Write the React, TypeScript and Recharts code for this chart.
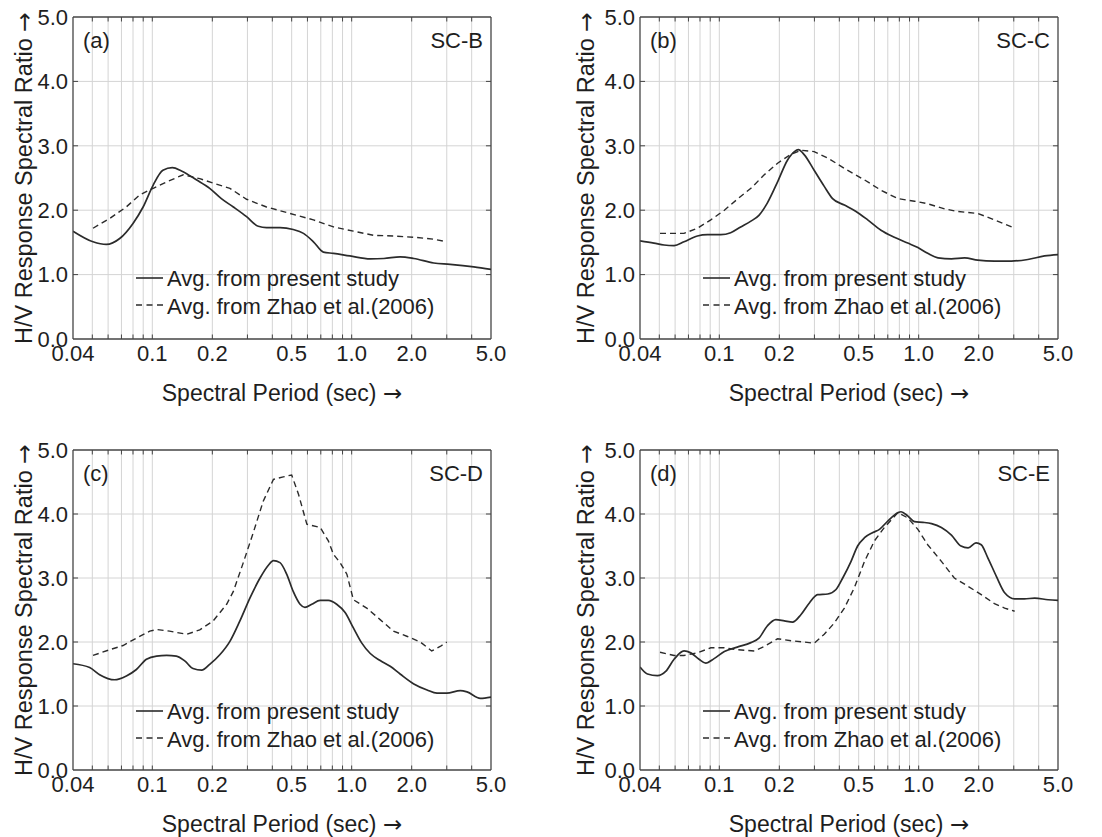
import React from 'react';
import { LineChart, Line, XAxis, YAxis, CartesianGrid, ReferenceLine, Legend } from 'recharts';

const FONT = '"Liberation Sans", Arial, Helvetica, sans-serif';
const ARROW_FONT = '"DejaVu Sans"';
const TEXT_COLOR = '#1e1e1e';
const LINE_COLOR = '#2b2b2b';
const FRAME_COLOR = '#444444';
const GRID_COLOR = '#d4d4d4';

const PERIOD_TICKS = [0.04, 0.1, 0.2, 0.5, 1, 2, 5];
const PERIOD_TICK_LABELS = ['0.04', '0.1', '0.2', '0.5', '1.0', '2.0', '5.0'];
const MINOR_PERIODS = [0.05, 0.06, 0.07, 0.08, 0.09, 0.1, 0.2, 0.3, 0.4, 0.5, 0.6, 0.7, 0.8, 0.9, 1, 2, 3, 4];
const RATIO_TICKS = [0, 1, 2, 3, 4, 5];
const RATIO_TICK_LABELS = ['0.0', '1.0', '2.0', '3.0', '4.0', '5.0'];
const RATIO_GRID = [1, 2, 3, 4];
const PANEL_TAGS = ['(a)', '(b)', '(c)', '(d)'];
const SITE_CLASSES = ['SC-B', 'SC-C', 'SC-D', 'SC-E'];
const LEGEND_LABELS = ['Avg. from present study', 'Avg. from Zhao et al.(2006)'];
const X_TITLE = 'Spectral Period (sec) ';
const Y_TITLE = 'H/V Response Spectral Ratio ';
const ARROW = '\u2192';

// (a) SC-B
const A_PRESENT_T = [0.04, 0.0504, 0.0588, 0.0686, 0.08, 0.0899, 0.101, 0.113, 0.126, 0.14, 0.167, 0.194, 0.222, 0.255, 0.297, 0.34, 0.374, 0.437, 0.509, 0.573, 0.643, 0.721, 0.811, 0.98, 1.24, 1.45, 1.75, 2.05, 2.58, 3.12, 4.1, 5.0];
const A_PRESENT_V = [1.675, 1.51, 1.468, 1.56, 1.795, 2.05, 2.39, 2.62, 2.66, 2.61, 2.47, 2.34, 2.18, 2.05, 1.9, 1.75, 1.73, 1.73, 1.7, 1.64, 1.51, 1.35, 1.33, 1.29, 1.245, 1.25, 1.275, 1.25, 1.18, 1.16, 1.12, 1.08];
const A_ZHAO_T = [0.0504, 0.061, 0.074, 0.0865, 0.101, 0.118, 0.143, 0.173, 0.202, 0.245, 0.297, 0.374, 0.49, 0.643, 0.811, 1.02, 1.29, 1.62, 2.05, 2.58, 3.0];
const A_ZHAO_V = [1.72, 1.87, 2.05, 2.24, 2.34, 2.44, 2.55, 2.49, 2.42, 2.34, 2.17, 2.05, 1.95, 1.85, 1.74, 1.675, 1.61, 1.6, 1.58, 1.55, 1.51];

// (b) SC-C
const B_PRESENT_T = [0.04, 0.047, 0.0528, 0.0593, 0.0665, 0.0776, 0.0872, 0.1017, 0.114, 0.128, 0.144, 0.158, 0.174, 0.196, 0.22, 0.238, 0.249, 0.267, 0.299, 0.336, 0.37, 0.424, 0.485, 0.555, 0.647, 0.755, 0.881, 0.991, 1.11, 1.25, 1.46, 1.7, 1.98, 2.4, 2.92, 3.53, 4.28, 5.0];
const B_PRESENT_V = [1.525, 1.49, 1.46, 1.45, 1.51, 1.6, 1.62, 1.62, 1.65, 1.74, 1.83, 1.92, 2.11, 2.44, 2.78, 2.91, 2.94, 2.86, 2.62, 2.37, 2.18, 2.08, 1.98, 1.85, 1.69, 1.58, 1.49, 1.42, 1.33, 1.26, 1.245, 1.26, 1.225, 1.21, 1.21, 1.235, 1.29, 1.31];
const B_ZHAO_T = [0.0504, 0.0665, 0.0776, 0.0906, 0.106, 0.123, 0.144, 0.168, 0.196, 0.229, 0.257, 0.299, 0.35, 0.424, 0.535, 0.647, 0.786, 0.953, 1.11, 1.35, 1.57, 1.98, 2.4, 3.03];
const B_ZHAO_V = [1.64, 1.64, 1.72, 1.85, 2.0, 2.17, 2.34, 2.55, 2.73, 2.87, 2.93, 2.91, 2.81, 2.65, 2.47, 2.31, 2.18, 2.14, 2.1, 2.02, 1.98, 1.95, 1.85, 1.72];

// (c) SC-D
const C_PRESENT_T = [0.04, 0.0485, 0.0544, 0.0647, 0.0741, 0.0832, 0.0934, 0.105, 0.118, 0.132, 0.146, 0.16, 0.177, 0.194, 0.218, 0.245, 0.275, 0.309, 0.347, 0.382, 0.405, 0.437, 0.472, 0.509, 0.551, 0.583, 0.631, 0.695, 0.764, 0.841, 0.927, 1.02, 1.12, 1.24, 1.39, 1.56, 1.75, 2.05, 2.39, 2.68, 3.0, 3.51, 3.79, 4.42, 5.0];
const C_PRESENT_V = [1.66, 1.6, 1.49, 1.41, 1.47, 1.57, 1.73, 1.78, 1.79, 1.78, 1.7, 1.585, 1.56, 1.65, 1.8, 2.01, 2.33, 2.69, 3.0, 3.2, 3.27, 3.24, 3.06, 2.79, 2.59, 2.54, 2.59, 2.65, 2.65, 2.59, 2.46, 2.22, 1.99, 1.82, 1.71, 1.62, 1.5, 1.345, 1.25, 1.2, 1.2, 1.24, 1.22, 1.12, 1.14];
const C_ZHAO_T = [0.0504, 0.0612, 0.0713, 0.0832, 0.0971, 0.105, 0.122, 0.149, 0.173, 0.202, 0.236, 0.255, 0.286, 0.321, 0.36, 0.405, 0.454, 0.5, 0.541, 0.596, 0.695, 0.764, 0.81, 0.875, 0.946, 1.02, 1.19, 1.39, 1.62, 1.89, 2.21, 2.52, 2.78, 3.0];
const C_ZHAO_V = [1.79, 1.88, 1.945, 2.06, 2.17, 2.195, 2.17, 2.12, 2.19, 2.33, 2.59, 2.79, 3.24, 3.71, 4.2, 4.54, 4.58, 4.61, 4.31, 3.84, 3.79, 3.58, 3.37, 3.24, 3.06, 2.66, 2.53, 2.35, 2.17, 2.09, 2.0, 1.86, 1.93, 2.0];

// (d) SC-E
const D_PRESENT_T = [0.04, 0.0436, 0.0489, 0.0538, 0.0593, 0.0665, 0.0719, 0.0791, 0.0855, 0.0941, 0.106, 0.123, 0.144, 0.158, 0.174, 0.192, 0.212, 0.233, 0.257, 0.283, 0.311, 0.35, 0.385, 0.416, 0.458, 0.494, 0.535, 0.589, 0.636, 0.7, 0.786, 0.816, 0.881, 0.953, 1.05, 1.16, 1.3, 1.46, 1.63, 1.77, 1.94, 2.06, 2.22, 2.45, 2.7, 3.03, 3.39, 3.82, 4.46, 5.0];
const D_PRESENT_V = [1.61, 1.5, 1.475, 1.54, 1.73, 1.86, 1.83, 1.73, 1.67, 1.74, 1.85, 1.92, 1.99, 2.06, 2.25, 2.35, 2.33, 2.31, 2.43, 2.61, 2.74, 2.75, 2.82, 3.0, 3.26, 3.5, 3.63, 3.71, 3.76, 3.89, 4.02, 4.035, 3.97, 3.88, 3.87, 3.85, 3.79, 3.67, 3.5, 3.47, 3.55, 3.52, 3.32, 3.03, 2.77, 2.675, 2.675, 2.685, 2.66, 2.65];
const D_ZHAO_T = [0.0504, 0.0593, 0.0665, 0.0776, 0.0906, 0.106, 0.123, 0.15, 0.168, 0.196, 0.229, 0.267, 0.299, 0.336, 0.378, 0.424, 0.476, 0.535, 0.6, 0.673, 0.786, 0.881, 0.991, 1.11, 1.3, 1.51, 1.77, 2.06, 2.4, 2.7, 3.03];
const D_ZHAO_V = [1.84, 1.79, 1.79, 1.83, 1.91, 1.91, 1.88, 1.86, 1.93, 2.05, 2.02, 2.0, 1.98, 2.12, 2.3, 2.53, 2.85, 3.26, 3.58, 3.79, 4.02, 3.94, 3.76, 3.52, 3.26, 3.0, 2.87, 2.74, 2.6, 2.53, 2.48];

const zip = (t: number[], v: number[]) => t.map((p, i) => ({ t: p, v: v[i] }));

type PanelProps = {
  idx: number;
  left: number;
  top: number;
  width: number;
  height: number;
  mTop: number;
  mRight: number;
  yAxisW: number;
  xAxisH: number;
  present: { t: number; v: number }[];
  zhao: { t: number; v: number }[];
};

const X_MIN = 0.04;
const X_MAX = 5;
const Y_MAX = 5;

function LegendBox() {
  return (
    <svg width={300} height={64} style={{ display: 'block', overflow: 'visible' }}>
      <line x1={0} y1={13} x2={27} y2={13} stroke={LINE_COLOR} strokeWidth={1.6} />
      <text x={31} y={21} fontSize={22} fontFamily={FONT} fill={TEXT_COLOR}>{LEGEND_LABELS[0]}</text>
      <line x1={0} y1={40} x2={27} y2={40} stroke={LINE_COLOR} strokeWidth={1.4} strokeDasharray="6 4.5" />
      <text x={31} y={49} fontSize={22} fontFamily={FONT} fill={TEXT_COLOR}>{LEGEND_LABELS[1]}</text>
    </svg>
  );
}

function Panel(p: PanelProps) {
  const plotLeft = p.yAxisW;
  const plotRight = p.width - p.mRight;
  const plotTop = p.mTop;
  const plotBottom = p.height - p.xAxisH;
  const plotCx = (plotLeft + plotRight) / 2;
  const plotCy = (plotTop + plotBottom) / 2;
  const yTitleX = plotLeft - (p.yAxisW > 80 ? 46 : 41);
  const tickStyle = { fontSize: 22, fill: TEXT_COLOR, fontFamily: FONT };

  return (
    <div style={{ position: 'absolute', left: p.left, top: p.top, width: p.width, height: p.height }}>
      <LineChart width={p.width} height={p.height} margin={{ top: p.mTop, right: p.mRight, bottom: 0, left: 0 }}>
        <CartesianGrid verticalValues={MINOR_PERIODS} horizontalValues={RATIO_GRID} stroke={GRID_COLOR} strokeWidth={1} />
        <XAxis
          dataKey="t"
          type="number"
          scale="log"
          domain={[X_MIN, X_MAX]}
          allowDataOverflow
          ticks={PERIOD_TICKS}
          tickFormatter={(v: number) => PERIOD_TICK_LABELS[PERIOD_TICKS.indexOf(v)] ?? String(v)}
          interval={0}
          height={p.xAxisH}
          tickSize={0}
          tickMargin={6}
          tick={tickStyle}
          stroke={FRAME_COLOR}
          axisLine={{ stroke: FRAME_COLOR, strokeWidth: 1.3 }}
          label={() => (
            <text x={plotCx} y={plotBottom + 62} textAnchor="middle" fontSize={23} fontFamily={FONT} fill={TEXT_COLOR}>
              {X_TITLE}
              <tspan fontFamily={ARROW_FONT} fill={TEXT_COLOR}>{ARROW}</tspan>
            </text>
          )}
        />
        <YAxis
          type="number"
          domain={[0, Y_MAX]}
          ticks={RATIO_TICKS}
          tickFormatter={(v: number) => RATIO_TICK_LABELS[RATIO_TICKS.indexOf(v)] ?? String(v)}
          interval={0}
          width={p.yAxisW}
          tickSize={0}
          tickMargin={5}
          tick={tickStyle}
          stroke={FRAME_COLOR}
          axisLine={{ stroke: FRAME_COLOR, strokeWidth: 1.3 }}
          label={() => (
            <text
              x={yTitleX}
              y={plotCy}
              textAnchor="middle"
              fontSize={23.5}
              fontFamily={FONT}
              fill={TEXT_COLOR}
              transform={`rotate(-90, ${yTitleX}, ${plotCy})`}
            >
              {Y_TITLE}
              <tspan fontFamily={ARROW_FONT} fill={TEXT_COLOR}>{ARROW}</tspan>
            </text>
          )}
        />
        <ReferenceLine y={Y_MAX} stroke={FRAME_COLOR} strokeWidth={1.3} />
        <ReferenceLine x={X_MAX} stroke={FRAME_COLOR} strokeWidth={1.3} />
        {MINOR_PERIODS.map((m) => (
          <ReferenceLine key={`bt${m}`} segment={[{ x: m, y: 0 }, { x: m, y: 0.07 }]} stroke={FRAME_COLOR} strokeWidth={1} />
        ))}
        {MINOR_PERIODS.map((m) => (
          <ReferenceLine key={`tt${m}`} segment={[{ x: m, y: Y_MAX }, { x: m, y: Y_MAX - 0.07 }]} stroke={FRAME_COLOR} strokeWidth={1} />
        ))}
        {RATIO_GRID.map((r) => (
          <ReferenceLine key={`lt${r}`} segment={[{ x: X_MIN, y: r }, { x: X_MIN * 1.06, y: r }]} stroke={FRAME_COLOR} strokeWidth={1} />
        ))}
        {RATIO_GRID.map((r) => (
          <ReferenceLine key={`rt${r}`} segment={[{ x: X_MAX / 1.06, y: r }, { x: X_MAX, y: r }]} stroke={FRAME_COLOR} strokeWidth={1} />
        ))}
        <Line
          data={p.present}
          dataKey="v"
          name={LEGEND_LABELS[0]}
          type="monotone"
          stroke={LINE_COLOR}
          strokeWidth={1.7}
          dot={false}
          activeDot={false}
          isAnimationActive={false}
        />
        <Line
          data={p.zhao}
          dataKey="v"
          name={LEGEND_LABELS[1]}
          type="linear"
          stroke={LINE_COLOR}
          strokeWidth={1.4}
          strokeDasharray="6 4"
          dot={false}
          activeDot={false}
          isAnimationActive={false}
        />
        <Legend
          layout="horizontal"
          verticalAlign="middle"
          align="center"
          content={() => <LegendBox />}
          wrapperStyle={{ position: 'absolute', left: plotLeft + 63, top: plotTop + 248, width: 300, height: 64 }}
        />
      </LineChart>
      <svg width={p.width} height={p.height} style={{ position: 'absolute', left: 0, top: 0, pointerEvents: 'none' }}>
        <text x={plotLeft + 10} y={plotTop + 31} fontSize={22} fontFamily={FONT} fill={TEXT_COLOR}>
          {PANEL_TAGS[p.idx]}
        </text>
        <text x={plotRight - 8} y={plotTop + 31} textAnchor="end" fontSize={22} fontFamily={FONT} fill={TEXT_COLOR}>
          {SITE_CLASSES[p.idx]}
        </text>
      </svg>
    </div>
  );
}

export default function App() {
  return (
    <div style={{ position: 'absolute', left: 0, top: 0, width: 1102, height: 837, background: '#ffffff', fontFamily: FONT }}>
      <Panel idx={0} left={0} top={0} width={551} height={420} mTop={17} mRight={60} yAxisW={73} xAxisH={81} present={zip(A_PRESENT_T, A_PRESENT_V)} zhao={zip(A_ZHAO_T, A_ZHAO_V)} />
      <Panel idx={1} left={551} top={0} width={551} height={420} mTop={17} mRight={44} yAxisW={89} xAxisH={81} present={zip(B_PRESENT_T, B_PRESENT_V)} zhao={zip(B_ZHAO_T, B_ZHAO_V)} />
      <Panel idx={2} left={0} top={418} width={551} height={419} mTop={32} mRight={60} yAxisW={73} xAxisH={67} present={zip(C_PRESENT_T, C_PRESENT_V)} zhao={zip(C_ZHAO_T, C_ZHAO_V)} />
      <Panel idx={3} left={551} top={418} width={551} height={419} mTop={32} mRight={44} yAxisW={89} xAxisH={67} present={zip(D_PRESENT_T, D_PRESENT_V)} zhao={zip(D_ZHAO_T, D_ZHAO_V)} />
    </div>
  );
}
